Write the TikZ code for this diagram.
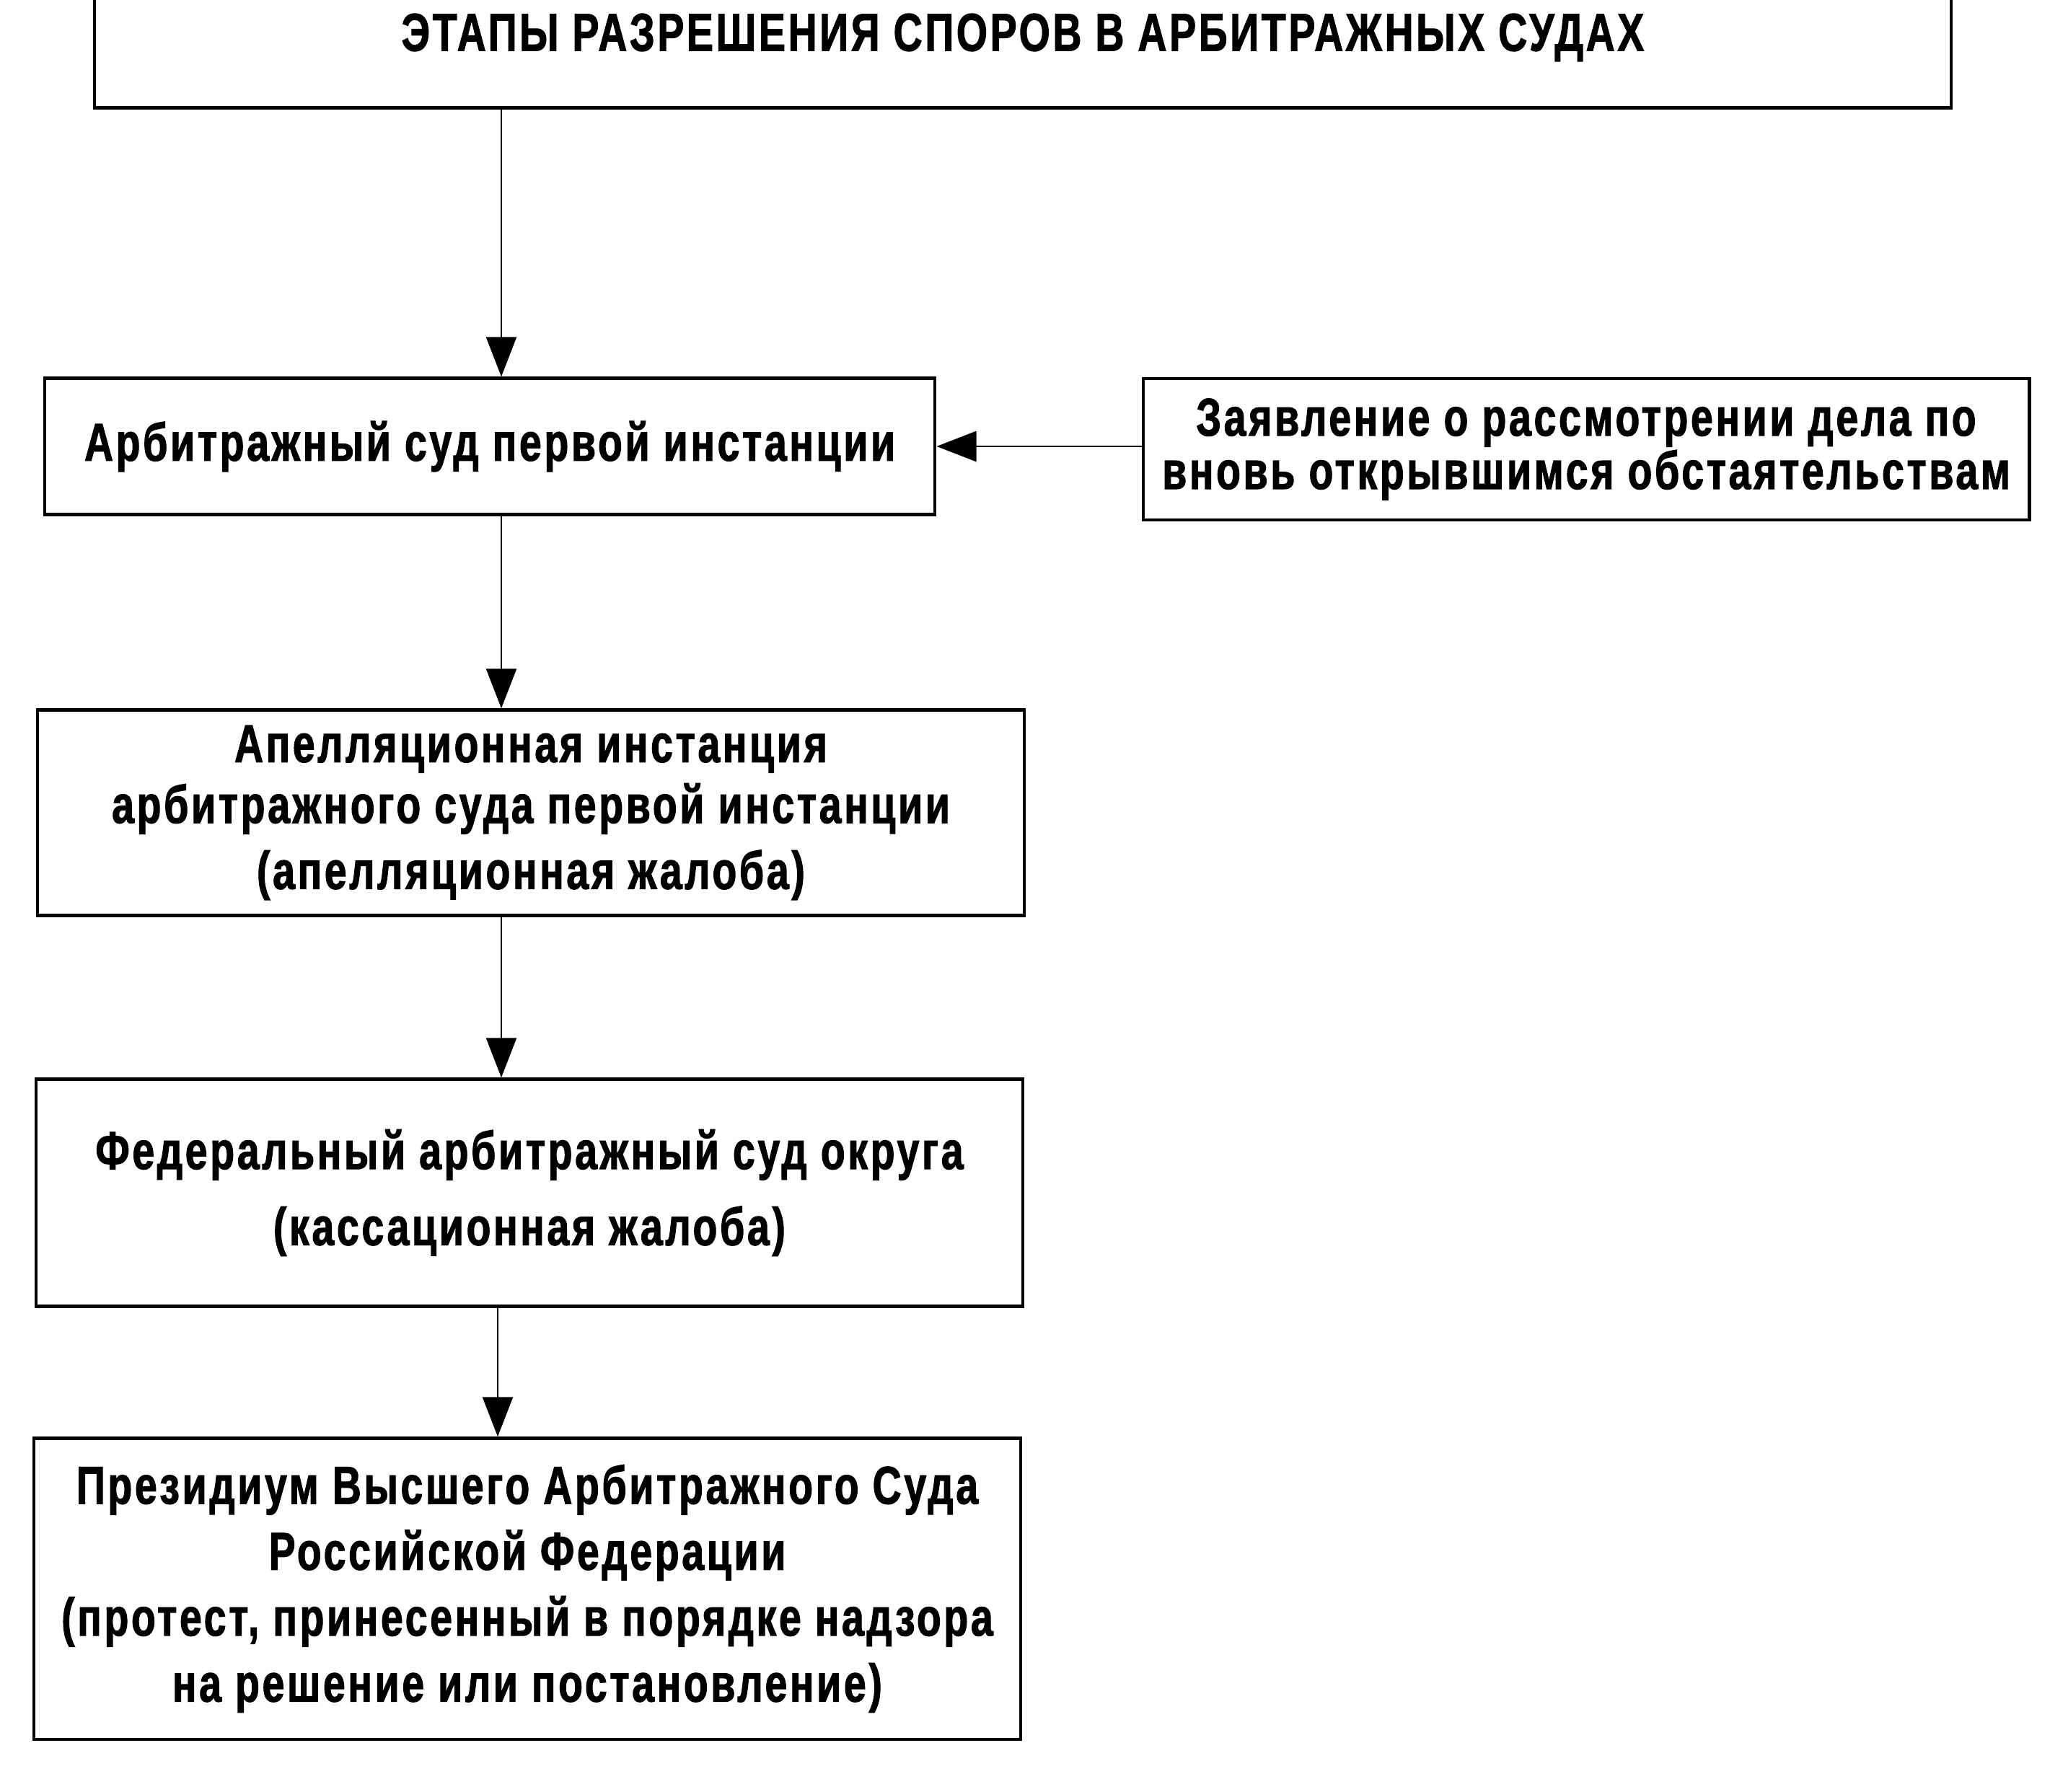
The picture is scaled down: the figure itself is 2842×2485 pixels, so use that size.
\documentclass[tikz,border=0pt]{standalone}
\usepackage{fontspec}
\setmainfont{Liberation Sans}[FakeStretch=0.75,LetterSpace=5,
  BoldFeatures={FakeBold=1.5}]
\usepackage{tikz}
\usetikzlibrary{arrows.meta,positioning}

\begin{document}
\begin{tikzpicture}[x=0.01cm,y=-0.01cm,>={Triangle[length=5.5mm,width=4.2mm]},
  font=\bfseries\fontsize{21}{24}\selectfont]
  \tikzstyle{stage}=[rectangle,draw=black,line width=1.2pt,align=center,
                     inner sep=0pt]
  \tikzstyle{flow}=[->,line width=0.7pt]

  \useasboundingbox (0,0) rectangle (2842,2485);

  \node [stage,minimum width=25.73cm,minimum height=1.95cm] (title) at (1418,52)
    {ЭТАПЫ РАЗРЕШЕНИЯ СПОРОВ В АРБИТРАЖНЫХ СУДАХ};
  \node [stage,minimum width=12.34cm,minimum height=1.89cm] (first) at (679,619)
    {Арбитражный суд первой инстанции};
  \node [stage,minimum width=12.28cm,minimum height=1.96cm,
         font=\bfseries\fontsize{21}{21}\selectfont] (claim) at (2199,623)
    {Заявление о рассмотрении дела по\\вновь открывшимся обстаятельствам};
  \node [stage,minimum width=13.67cm,minimum height=2.85cm] (appeal) at (736,1127)
    {Апелляционная инстанция\\арбитражного суда первой инстанции\\[2pt]
     (апелляционная жалоба)};
  \node [stage,minimum width=13.67cm,minimum height=3.15cm] (district) at (734,1654)
    {Федеральный арбитражный суд округа\\[6pt](кассационная жалоба)};
  \node [stage,minimum width=13.67cm,minimum height=4.17cm,
         font=\bfseries\fontsize{21}{26}\selectfont] (presidium) at (731,2203)
    {Президиум Высшего Арбитражного Суда\\Российской Федерации\\
     (протест, принесенный в порядке надзора\\на решение или постановление)};

  \coordinate (axis) at (695,0);
  \coordinate (axis2) at (690,0);

  \draw [flow] (title.south -| axis) -- (first.north -| axis);
  \draw [flow] (first.south -| axis) -- (appeal.north -| axis);
  \draw [flow] (appeal.south -| axis) -- (district.north -| axis);
  \draw [flow] (district.south -| axis2) -- (presidium.north -| axis2);
  \draw [flow] (claim.west |- first.east) -- (first.east);
\end{tikzpicture}
\end{document}
